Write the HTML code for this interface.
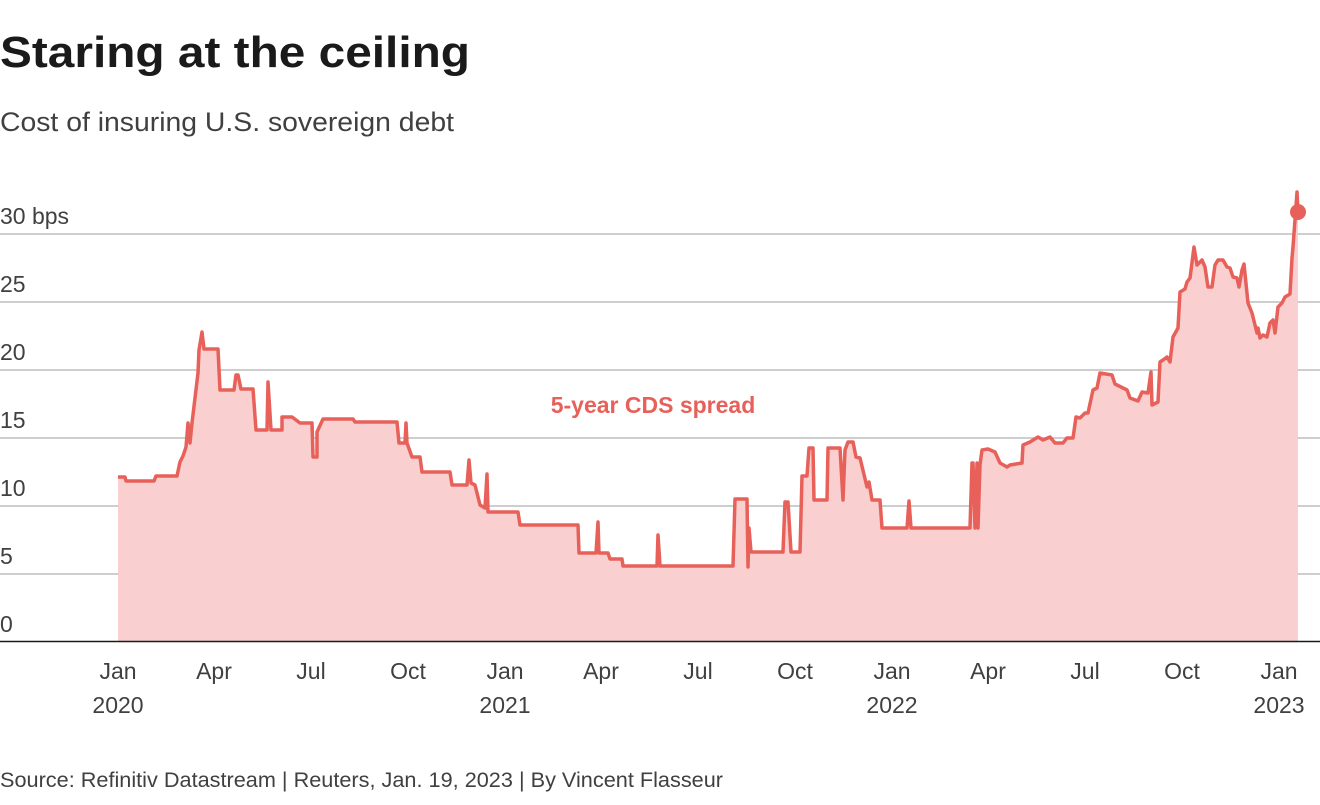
<!DOCTYPE html>
<html><head><meta charset="utf-8"><style>
body{margin:0;background:#fff;width:1320px;height:800px;overflow:hidden}
svg text{font-family:"Liberation Sans",sans-serif}
</style></head><body>
<svg width="1320" height="800" viewBox="0 0 1320 800" xmlns="http://www.w3.org/2000/svg">
<text x="0" y="67" font-size="44" font-weight="bold" fill="#1a1a1a" textLength="470" lengthAdjust="spacingAndGlyphs">Staring at the ceiling</text>
<text x="0" y="131" font-size="27" fill="#404040" textLength="454" lengthAdjust="spacingAndGlyphs">Cost of insuring U.S. sovereign debt</text>
<g stroke="#bdbdbd" stroke-width="1.5">
<line x1="0" y1="234" x2="1320" y2="234"/><line x1="0" y1="302" x2="1320" y2="302"/>
<line x1="0" y1="370" x2="1320" y2="370"/><line x1="0" y1="438" x2="1320" y2="438"/>
<line x1="0" y1="506" x2="1320" y2="506"/><line x1="0" y1="574" x2="1320" y2="574"/>
</g>
<g font-size="23" fill="#404040">
<text x="0" y="224">30 bps</text><text x="0" y="292">25</text><text x="0" y="360">20</text>
<text x="0" y="428">15</text><text x="0" y="496">10</text><text x="0" y="564">5</text><text x="0" y="632">0</text>
</g>
<path fill="#f9d0cf" d="M118,641 L118,477 125,477 126,481 154,481 156,476 177,476 180,462 183,456 186,447 188,423 190,443 192,423 198,373 199,350 202,332 204,349 218,349 220,390 234,390 236,375 238,375 241,389 253,389 256,430 267,430 268,382 271,430 282,430 282,417 292,417 300,423 312,423 313,457 317,457 317,432 323,419 353,419 355,422 397,422 399,443 405,443 406,423 407,443 412,457 420,457 422,472 450,472 452,485 467,485 469,460 471,483 475,485 480,505 485,508 487,474 488,512 518,512 520,525 578,525 579,553 596,553 598,522 599,553 608,553 610,559 622,559 623,566 657,566 658,535 660,566 733,566 735,499 747,499 748,567 749,528 751,552 783,552 785,502 788,502 791,552 800,552 802,476 807,476 809,448 813,448 814,500 827,500 828,448 840,448 843,500 845,450 848,442 853,442 856,457 860,458 867,487 869,482 872,500 880,500 882,528 907,528 909,501 911,528 970,528 972,463 973,463 975,528 977,463 978,528 980,465 982,450 988,449 995,452 1000,463 1007,467 1010,465 1022,463 1023,445 1030,442 1038,437 1043,440 1050,437 1055,443 1063,443 1067,438 1073,438 1076,417 1080,418 1085,413 1088,413 1093,390 1097,388 1100,373 1112,375 1115,384 1123,388 1127,390 1130,398 1138,401 1142,392 1148,393 1151,372 1152,405 1158,402 1160,362 1163,360 1167,357 1170,362 1173,337 1178,328 1180,292 1185,289 1187,282 1190,278 1194,247 1197,265 1202,260 1205,267 1208,287 1212,287 1215,265 1218,260 1223,260 1227,267 1230,268 1233,277 1237,278 1239,287 1242,270 1244,264 1248,303 1252,313 1257,333 1258,328 1260,338 1263,335 1267,337 1270,323 1273,320 1275,333 1278,307 1282,303 1285,297 1290,294 1292,258 1293,247 1295,220 1297,192 1298,212 L1298,641 Z"/>
<polyline fill="none" stroke="#e8605a" stroke-width="3.5" stroke-linejoin="round" points="118,477 125,477 126,481 154,481 156,476 177,476 180,462 183,456 186,447 188,423 190,443 192,423 198,373 199,350 202,332 204,349 218,349 220,390 234,390 236,375 238,375 241,389 253,389 256,430 267,430 268,382 271,430 282,430 282,417 292,417 300,423 312,423 313,457 317,457 317,432 323,419 353,419 355,422 397,422 399,443 405,443 406,423 407,443 412,457 420,457 422,472 450,472 452,485 467,485 469,460 471,483 475,485 480,505 485,508 487,474 488,512 518,512 520,525 578,525 579,553 596,553 598,522 599,553 608,553 610,559 622,559 623,566 657,566 658,535 660,566 733,566 735,499 747,499 748,567 749,528 751,552 783,552 785,502 788,502 791,552 800,552 802,476 807,476 809,448 813,448 814,500 827,500 828,448 840,448 843,500 845,450 848,442 853,442 856,457 860,458 867,487 869,482 872,500 880,500 882,528 907,528 909,501 911,528 970,528 972,463 973,463 975,528 977,463 978,528 980,465 982,450 988,449 995,452 1000,463 1007,467 1010,465 1022,463 1023,445 1030,442 1038,437 1043,440 1050,437 1055,443 1063,443 1067,438 1073,438 1076,417 1080,418 1085,413 1088,413 1093,390 1097,388 1100,373 1112,375 1115,384 1123,388 1127,390 1130,398 1138,401 1142,392 1148,393 1151,372 1152,405 1158,402 1160,362 1163,360 1167,357 1170,362 1173,337 1178,328 1180,292 1185,289 1187,282 1190,278 1194,247 1197,265 1202,260 1205,267 1208,287 1212,287 1215,265 1218,260 1223,260 1227,267 1230,268 1233,277 1237,278 1239,287 1242,270 1244,264 1248,303 1252,313 1257,333 1258,328 1260,338 1263,335 1267,337 1270,323 1273,320 1275,333 1278,307 1282,303 1285,297 1290,294 1292,258 1293,247 1295,220 1297,192 1298,212"/>
<circle cx="1298" cy="212" r="8" fill="#e8605a"/>
<line x1="0" y1="641.5" x2="1320" y2="641.5" stroke="#1a1a1a" stroke-width="1.5"/>
<text x="653" y="413" font-size="23" font-weight="bold" fill="#e8605a" text-anchor="middle">5-year CDS spread</text>
<g font-size="23" fill="#404040" text-anchor="middle">
<text x="118" y="679">Jan</text><text x="118" y="713">2020</text>
<text x="214" y="679">Apr</text><text x="311" y="679">Jul</text><text x="408" y="679">Oct</text>
<text x="505" y="679">Jan</text><text x="505" y="713">2021</text>
<text x="601" y="679">Apr</text><text x="698" y="679">Jul</text><text x="795" y="679">Oct</text>
<text x="892" y="679">Jan</text><text x="892" y="713">2022</text>
<text x="988" y="679">Apr</text><text x="1085" y="679">Jul</text><text x="1182" y="679">Oct</text>
<text x="1279" y="679">Jan</text><text x="1279" y="713">2023</text>
</g>
<text x="0" y="787" font-size="21" fill="#404040" textLength="723" lengthAdjust="spacingAndGlyphs">Source: Refinitiv Datastream | Reuters, Jan. 19, 2023 | By Vincent Flasseur</text>
</svg>
</body></html>
